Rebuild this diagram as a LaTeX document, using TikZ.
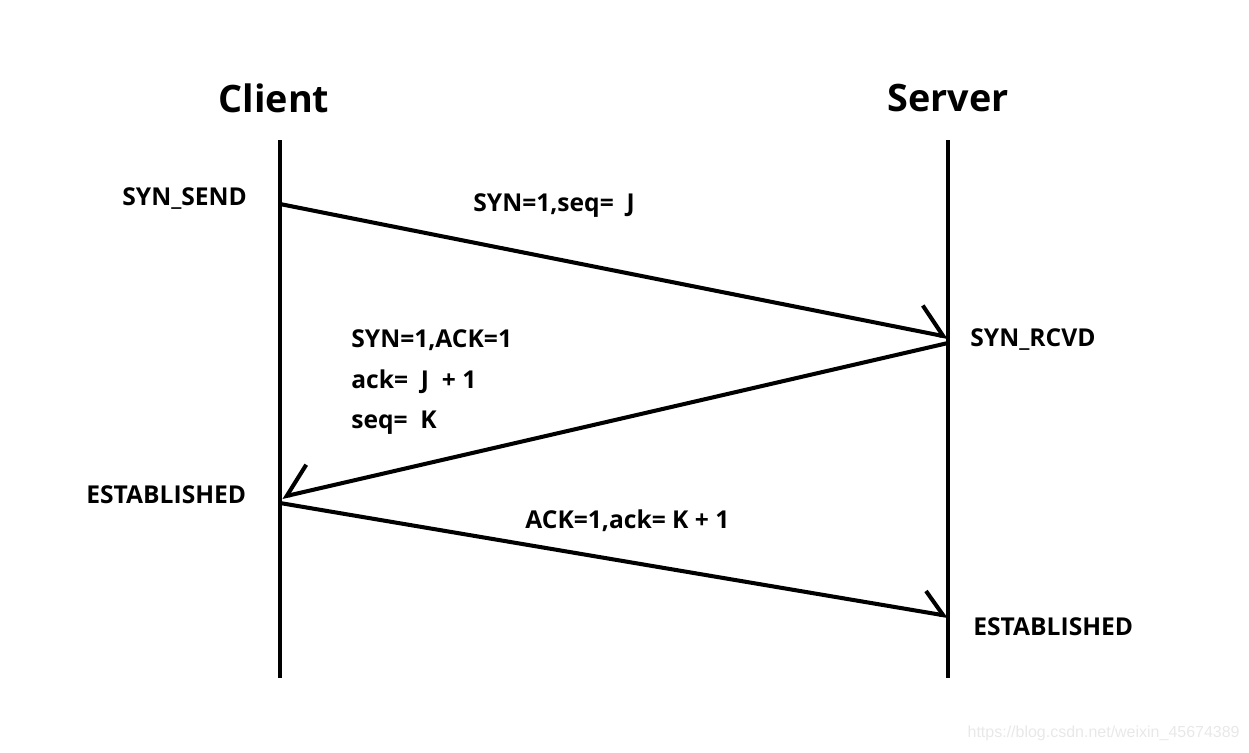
\documentclass[tikz,border=0pt]{standalone}
\usepackage{fontspec}
\setmainfont{Open Sans}
\newfontfamily\markfont{Liberation Sans}
\usetikzlibrary{arrows.meta,positioning}
\tikzset{
  lifeline/.style={line width=2.3pt},
  msg/.style={line width=2.3pt,-{Straight Barb[harpoon,length=#1,width=2*#1]}},
  msg/.default=5.2mm,
  msg swap/.style={line width=2.3pt,-{Straight Barb[harpoon,swap,length=5.2mm,width=10.4mm]}},
  party/.style={font=\fontsize{21.5}{26}\selectfont\bfseries},
  state/.style={font=\fontsize{14}{17}\selectfont\bfseries,anchor=west,inner sep=0pt},
}
\begin{document}
\begin{tikzpicture}[x=0.02cm,y=-0.02cm]
  \useasboundingbox (0,0) rectangle (1249,752);
  % parties and lifelines
  \node[party] (client) at (274,98) {Client};
  \node[party] (server) at (948,98) {Server};
  \coordinate (c top) at (280,140);
  \coordinate (c bot) at (280,678);
  \coordinate (s top) at (948,140);
  \coordinate (s bot) at (948,678);
  \draw[lifeline] (c top) -- (c bot);
  \draw[lifeline] (s top) -- (s bot);
  % message ends
  \coordinate (m1a) at (280,204);
  \coordinate (m1b) at (948,337);
  \coordinate (m2a) at (948,343);
  \coordinate (m2b) at (282,497);
  \coordinate (m3a) at (280,503);
  \coordinate (m3b) at (948,616);
  \draw[msg] (m1a) -- (m1b);
  \draw[msg swap] (m2a) -- (m2b);
  \draw[msg=4.2mm] (m3a) -- (m3b);
  % states
  \node[state] (syn send) at (122,199) {SYN\_SEND};
  \node[state] (syn rcvd) at (970,340) {SYN\_RCVD};
  \node[state] (est c) at (86,495) {ESTABLISHED};
  \node[state] (est s) at (973,627) {ESTABLISHED};
  % packet fields
  \node[state] (f1) at (473,206) {SYN=1,seq=\ \ J};
  \node[state] (f2) at (351,340) {SYN=1,ACK=1};
  \node[state] (f3) at (351,382) {ack=\ \ J\ \ +\ 1};
  \node[state] (f4) at (351,423) {seq=\ \ K};
  \node[state] (f5) at (525,521) {ACK=1,ack= K + 1};
  \node[anchor=east,inner sep=0pt,text=gray!18,font=\markfont\fontsize{9.1}{11}\selectfont] (mark) at (1240,733) {https://blog.csdn.net/weixin\_45674389};
\end{tikzpicture}
\end{document}
